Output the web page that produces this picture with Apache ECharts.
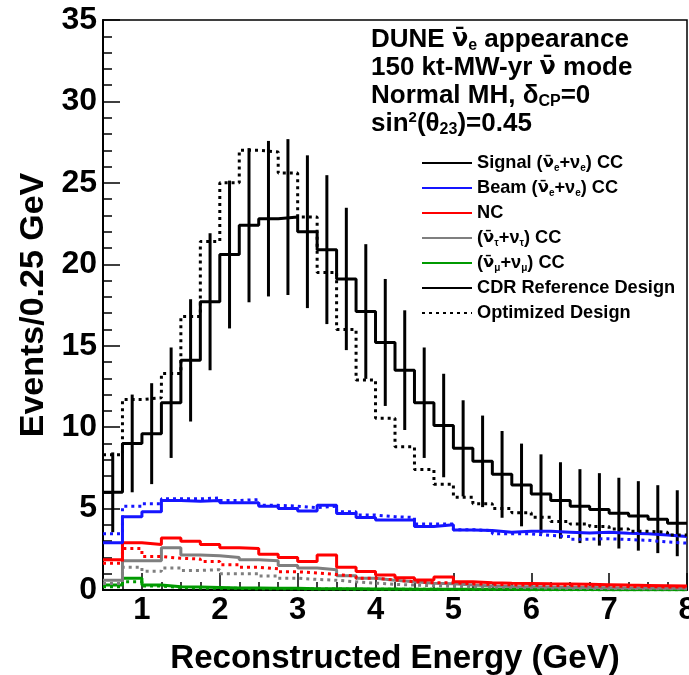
<!DOCTYPE html>
<html>
<head>
<meta charset="utf-8">
<script src="https://cdn.jsdelivr.net/npm/echarts@6/dist/echarts.min.js"></script>
<style>
  html, body { margin: 0; padding: 0; background: #fff; }
  #chart { width: 689px; height: 675px; }
</style>
</head>
<body>
<div id="chart"></div>
<script>
// bins: 0.5 - 8 GeV, 0.25 GeV wide (30 bins)
const binLow = 0.5;
const binWidth = 0.25;
const xTicks = [1, 2, 3, 4, 5, 6, 7, 8];

// CDR reference design (solid)
const signalCdr = [6.0, 9.0, 9.6, 11.5, 14.1, 17.7, 20.6, 22.4, 22.8, 22.9,
  22.0, 20.9, 19.1, 17.1, 15.2, 13.5, 11.5, 10.1, 8.7, 7.9,
  7.1, 6.45, 5.9, 5.5, 5.15, 4.95, 4.72, 4.55, 4.35, 4.1];
const beamCdr = [2.9, 4.5, 4.8, 5.5, 5.45, 5.5, 5.35, 5.35, 5.15, 5.0,
  4.85, 5.2, 4.7, 4.45, 4.3, 4.3, 3.9, 4.0, 3.68, 3.65,
  3.55, 3.6, 3.6, 3.55, 3.5, 3.55, 3.48, 3.45, 3.38, 3.28];
const ncCdr = [1.85, 2.9, 2.8, 3.2, 3.0, 2.8, 2.6, 2.55, 2.2, 2.0,
  1.75, 2.15, 1.4, 1.13, 0.92, 0.75, 0.62, 0.8, 0.5, 0.45,
  0.42, 0.4, 0.38, 0.37, 0.35, 0.33, 0.3, 0.28, 0.26, 0.24];
const tauCdr = [0.6, 1.8, 1.8, 2.6, 2.15, 2.1, 2.0, 1.85, 1.8, 1.5,
  1.35, 1.25, 0.88, 0.72, 0.6, 0.5, 0.42, 0.38, 0.3, 0.25,
  0.22, 0.2, 0.18, 0.16, 0.15, 0.14, 0.13, 0.12, 0.11, 0.1];
const muCdr = [0.3, 0.72, 0.3, 0.2, 0.18, 0.15, 0.12, 0.12, 0.1, 0.1,
  0.08, 0.08, 0.07, 0.06, 0.06, 0.05, 0.05, 0.05, 0.04, 0.04,
  0.04, 0.03, 0.03, 0.03, 0.03, 0.02, 0.02, 0.02, 0.02, 0.02];

// Optimized design (dotted)
const signalOpt = [8.3, 11.7, 11.8, 13.3, 16.8, 21.4, 25.0, 27.0, 26.9, 25.6,
  22.9, 19.5, 16.0, 12.9, 10.55, 8.8, 7.4, 6.5, 5.7, 5.3,
  5.0, 4.75, 4.47, 4.2, 4.05, 3.9, 3.74, 3.6, 3.55, 3.38];
const beamOpt = [3.45, 5.15, 5.3, 5.6, 5.6, 5.65, 5.5, 5.55, 5.2, 5.15,
  5.05, 5.15, 4.8, 4.6, 4.5, 4.45, 4.05, 4.05, 3.7, 3.65,
  3.45, 3.45, 3.35, 3.28, 3.12, 3.15, 3.1, 3.05, 2.95, 2.88];
const ncOpt = [1.65, 2.55, 2.05, 1.95, 1.9, 1.75, 1.55, 1.4, 1.3, 1.12,
  1.05, 0.95, 0.85, 0.72, 0.62, 0.5, 0.45, 0.45, 0.38, 0.35,
  0.32, 0.3, 0.28, 0.27, 0.25, 0.24, 0.22, 0.2, 0.19, 0.18];
const tauOpt = [0.4, 1.4, 1.15, 1.35, 1.2, 1.25, 1.0, 1.0, 0.86, 0.72,
  0.65, 0.6, 0.5, 0.42, 0.35, 0.3, 0.26, 0.22, 0.2, 0.18,
  0.16, 0.14, 0.12, 0.11, 0.1, 0.09, 0.09, 0.08, 0.08, 0.08];
const muOpt = [0.2, 0.5, 0.25, 0.15, 0.12, 0.1, 0.1, 0.08, 0.08, 0.07,
  0.06, 0.06, 0.05, 0.05, 0.04, 0.04, 0.04, 0.03, 0.03, 0.03,
  0.03, 0.02, 0.02, 0.02, 0.02, 0.02, 0.02, 0.01, 0.01, 0.01];

// ν with an overbar, drawn in DejaVu so the macron sits on the glyph
const NUBAR = 'ν\u0304';

const titleLines = [
  'DUNE {nb|' + NUBAR + '}{sub|e} appearance',
  '150 kt-MW-yr {nb|' + NUBAR + '} mode',
  'Normal MH, δ{sub|CP}=0',
  'sin{sup|2}(θ{sub|23})=0.45'
];

const legendLabels = {
  signal: 'Signal ({nb|' + NUBAR + '}{s|e}+ν{s|e}) CC',
  beam: 'Beam ({nb|' + NUBAR + '}{s|e}+ν{s|e}) CC',
  nc: 'NC',
  tau: '({nb|' + NUBAR + '}{s|τ}+ν{s|τ}) CC',
  mu: '({nb|' + NUBAR + '}{s|μ}+ν{s|μ}) CC',
  cdr: 'CDR Reference Design',
  opt: 'Optimized Design'
};

const FONT = '"Liberation Sans", Arial, Helvetica, sans-serif';
const NUFONT = '"DejaVu Sans", "Liberation Sans", sans-serif';
const DOTS = [3, 4];

// histogram outline: points at each bin's low edge plus the last high edge
function histPoints(values) {
  const pts = values.map((v, i) => [binLow + i * binWidth, v]);
  pts.push([binLow + values.length * binWidth, values[values.length - 1]]);
  return pts;
}

function hist(name, values, color, dotted) {
  return {
    name: name,
    type: 'line',
    step: 'end',
    data: histPoints(values),
    symbol: 'none',
    color: color,
    lineStyle: { color: color, width: 3, type: dotted ? DOTS : 'solid' },
    itemStyle: { color: color },
    silent: true
  };
}

const chart = echarts.init(document.getElementById('chart'), null, { renderer: 'canvas' });

const option = {
  animation: false,
  backgroundColor: '#fff',
  textStyle: { fontFamily: FONT },
  title: {
    text: titleLines.join('\n'),
    left: 371,
    top: 26,
    padding: 0,
    textStyle: {
      fontFamily: FONT,
      fontWeight: 'bold',
      fontSize: 26,
      lineHeight: 28,
      color: '#000',
      rich: {
        nb: { fontFamily: NUFONT, fontWeight: 'bold', fontSize: 24, lineHeight: 28, color: '#000' },
        sub: { fontFamily: FONT, fontWeight: 'bold', fontSize: 16, lineHeight: 14, verticalAlign: 'bottom', color: '#000' },
        sup: { fontFamily: FONT, fontWeight: 'bold', fontSize: 15, lineHeight: 14, verticalAlign: 'top', color: '#000' }
      }
    }
  },
  legend: {
    orient: 'vertical',
    left: 421,
    top: 153,
    padding: 0,
    itemWidth: 50,
    itemHeight: 3,
    itemGap: 5,
    selectedMode: false,
    itemStyle: { opacity: 0 },
    data: ['signal', 'beam', 'nc', 'tau', 'mu', 'cdr', 'opt'],
    formatter: (name) => legendLabels[name],
    textStyle: {
      fontFamily: FONT,
      fontWeight: 'bold',
      fontSize: 18.2,
      lineHeight: 20,
      color: '#000',
      rich: {
        nb: { fontFamily: NUFONT, fontWeight: 'bold', fontSize: 16.5, lineHeight: 20, color: '#000' },
        s: { fontFamily: FONT, fontWeight: 'bold', fontSize: 10, lineHeight: 10, verticalAlign: 'bottom', color: '#000' }
      }
    }
  },
  grid: {
    left: 103,
    right: 2,
    top: 20,
    bottom: 85,
    show: true,
    borderColor: '#000',
    borderWidth: 1.5,
    containLabel: false,
    outerBoundsMode: 'none'
  },
  xAxis: [
    {
      type: 'value',
      min: 0.5,
      max: 8,
      interval: 0.25,
      position: 'bottom',
      axisLine: { lineStyle: { color: '#000', width: 2 } },
      axisTick: { inside: true, length: 8, lineStyle: { color: '#000', width: 1.5 } },
      axisLabel: { show: false },
      splitLine: { show: false }
    },
    {
      type: 'value',
      min: 0.5,
      max: 8,
      position: 'bottom',
      axisLine: { show: false },
      axisTick: { inside: true, length: 17, customValues: xTicks, lineStyle: { color: '#000', width: 1.5 } },
      axisLabel: {
        customValues: xTicks,
        margin: 5,
        fontFamily: FONT,
        fontWeight: 'bold',
        fontSize: 31,
        color: '#000'
      },
      splitLine: { show: false },
      name: 'Reconstructed Energy (GeV)',
      nameLocation: 'middle',
      nameGap: 52,
      nameTextStyle: { fontFamily: FONT, fontWeight: 'bold', fontSize: 33, color: '#000' }
    }
  ],
  yAxis: {
    type: 'value',
    min: 0,
    max: 35,
    interval: 5,
    axisLine: { show: true, lineStyle: { color: '#000', width: 2 } },
    axisTick: { show: true, inside: true, length: 17, lineStyle: { color: '#000', width: 1.5 } },
    minorTick: { show: true, splitNumber: 5, length: 9, lineStyle: { color: '#000', width: 1.5 } },
    axisLabel: {
      margin: 6,
      fontFamily: FONT,
      fontWeight: 'bold',
      fontSize: 32,
      color: '#000'
    },
    splitLine: { show: false },
    name: 'Events/0.25 GeV',
    nameLocation: 'middle',
    nameGap: 50,
    nameTextStyle: { fontFamily: FONT, fontWeight: 'bold', fontSize: 34, color: '#000' }
  },
  series: [
    hist('mu_opt', muOpt, '#009a00', true),
    hist('mu', muCdr, '#009a00', false),
    hist('tau_opt', tauOpt, '#7f7f7f', true),
    hist('tau', tauCdr, '#7f7f7f', false),
    hist('nc_opt', ncOpt, '#ff0000', true),
    hist('nc', ncCdr, '#ff0000', false),
    hist('beam_opt', beamOpt, '#1515ff', true),
    hist('beam', beamCdr, '#1515ff', false),
    hist('signal_opt', signalOpt, '#000', true),
    hist('signal', signalCdr, '#000', false),
    {
      // statistical error bars on the CDR histogram
      name: 'signal_err',
      type: 'custom',
      silent: true,
      data: signalCdr.map((v, i) => [binLow + (i + 0.5) * binWidth, v, Math.sqrt(v)]),
      encode: { x: 0, y: 1 },
      renderItem: (params, api) => {
        const x = api.value(0);
        const v = api.value(1);
        const e = api.value(2);
        const top = api.coord([x, v + e]);
        const bot = api.coord([x, Math.max(v - e, 0)]);
        return {
          type: 'line',
          shape: { x1: top[0], y1: top[1], x2: bot[0], y2: bot[1] },
          style: { stroke: '#000', lineWidth: 3 }
        };
      }
    },
    hist('cdr', [], '#000', false),
    hist('opt', [], '#000', true)
  ]
};

chart.setOption(option);
</script>
</body>
</html>
